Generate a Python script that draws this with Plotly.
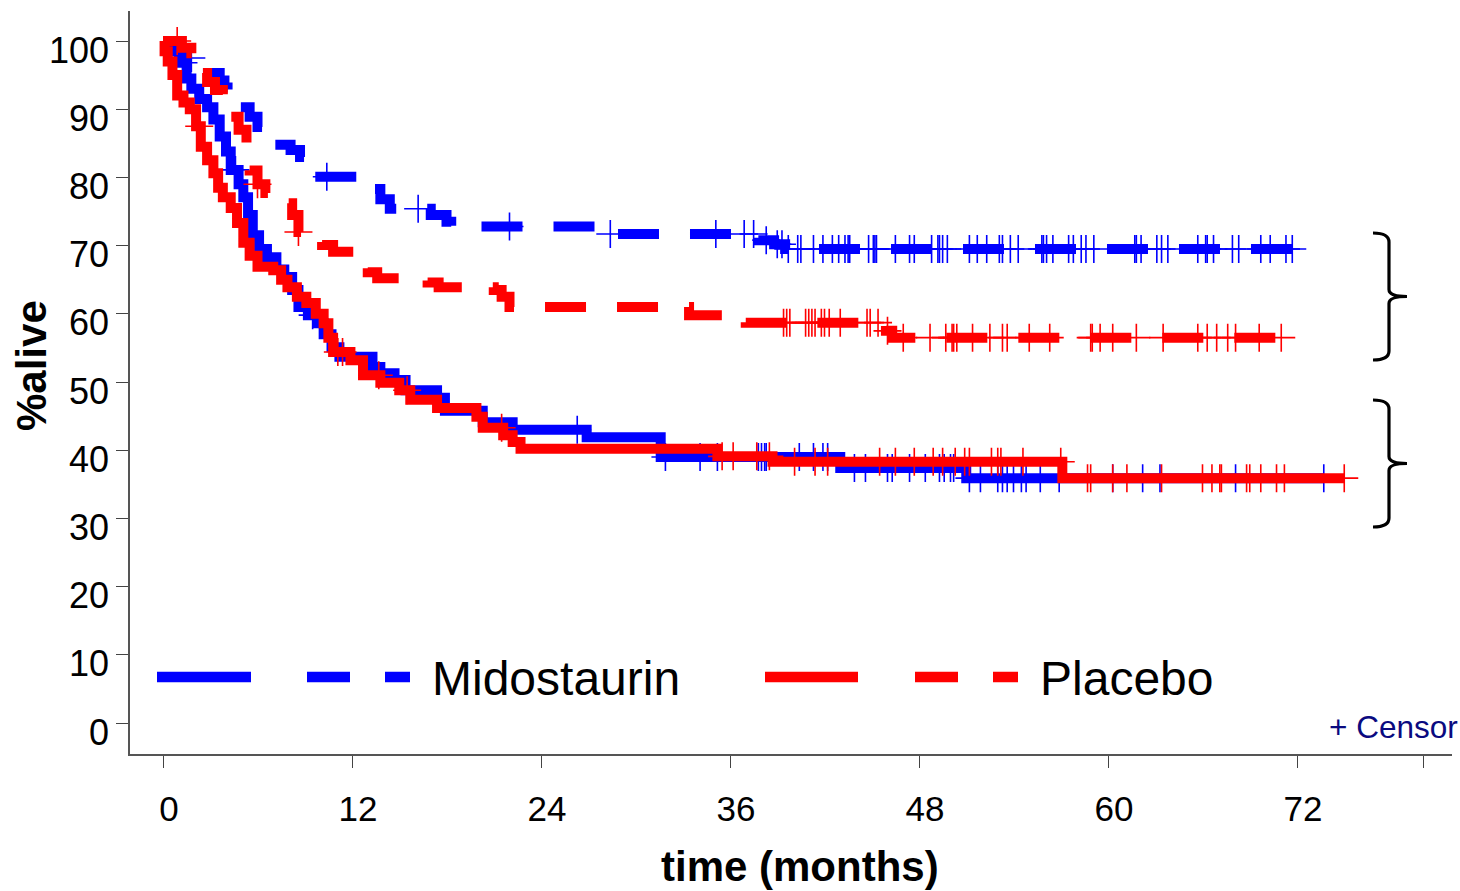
import numpy as np
import plotly.graph_objects as go

# ---------------- data (time in months, % alive) ----------------
# Midostaurin, solid curve: step times and survival levels
mido_solid_t = [0, 0.5, 1.0, 1.5, 1.8, 2.3, 2.8, 3.2, 3.6, 4.0, 4.3, 4.8, 5.1, 5.4, 5.7, 6.1, 6.6,
                7.2, 7.7, 8.2, 8.6, 9.2, 9.8, 10.2, 10.7, 11.2, 13.3, 13.8, 14.7, 15.4, 17.4, 17.9,
                20.3, 22.2, 26.9, 31.6, 43.0, 51.0]
mido_solid_s = [100, 98.5, 96.8, 94.5, 93.0, 91.5, 90.3, 88.5, 86.0, 83.8, 81.1, 79.0, 77.1, 74.5,
                71.5, 69.5, 68.3, 66.5, 65.4, 63.5, 61.0, 59.8, 58.6, 57.0, 55.1, 53.7, 52.2, 51.3,
                50.3, 48.8, 47.7, 45.8, 44.1, 43.0, 41.9, 39.0, 37.4, 35.9]
mido_solid_end = 73.7
mido_solid_cens = [1.3, 4.6, 9.5, 26.3, 31.9, 34.1, 35.2, 37.8, 38.0, 38.2, 38.3, 40.4, 41.3, 41.9,
                   42.2, 43.9, 44.6, 46.0, 46.3, 47.4, 48.4, 49.3, 49.6, 50.0, 50.2, 51.2, 51.9,
                   53.0, 53.3, 53.6, 54.0, 54.5, 54.8, 55.7, 56.9, 60.3, 62.2, 63.3, 68.1, 73.7]

# Midostaurin, dashed curve
mido_dash_t = [0, 0.8, 1.3, 1.9, 3.6, 3.9, 4.1, 4.8, 5.5, 6.0, 7.1, 8.1, 8.7, 9.2, 12.7, 13.8,
               14.4, 17.0, 18.0, 18.3, 27.5, 37.8, 38.8, 39.5]
mido_dash_s = [100, 98.5, 97.5, 95.3, 94.2, 93.2, 92.6, 90.3, 88.9, 87.4, 84.8, 84.0, 83.0, 80.1,
               78.3, 76.8, 75.4, 74.5, 73.5, 72.8, 71.7, 70.8, 70.2, 69.5]
mido_dash_end = 71.7
mido_dash_cens = [1.8, 10.4, 16.2, 22.0, 28.4, 35.1, 36.9, 37.5, 38.3, 39.0, 39.3, 39.7, 40.3,
                  40.5, 41.3, 41.9, 42.5, 42.9, 43.3, 43.5, 43.6, 44.8, 45.1, 45.2, 45.3, 46.5,
                  47.4, 47.7, 48.8, 49.2, 49.3, 49.5, 49.8, 51.2, 51.7, 52.3, 53.1, 53.3, 53.8,
                  54.3, 55.8, 55.9, 56.1, 56.5, 57.5, 57.8, 58.3, 58.6, 59.1, 61.7, 61.8, 62.1,
                  63.1, 63.4, 63.8, 65.7, 66.2, 66.3, 66.7, 67.9, 68.3, 69.7, 70.3, 71.3, 71.7]

# Placebo, solid curve
plac_solid_t = [0, 0.1, 0.3, 0.6, 0.9, 1.3, 1.7, 2.1, 2.4, 2.8, 3.2, 3.5, 3.8, 4.3, 4.7, 5.1, 5.5,
                6.0, 7.0, 7.5, 7.9, 8.5, 9.1, 9.7, 10.2, 10.5, 10.8, 11.9, 12.7, 13.8, 15.0, 15.7,
                17.4, 19.9, 20.3, 21.6, 22.2, 22.7, 35.2, 38.7, 57.1]
plac_solid_s = [100, 98.5, 97.0, 95.0, 92.0, 91.0, 90.0, 87.5, 84.5, 82.5, 80.6, 78.5, 77.1, 75.5,
                73.3, 70.4, 68.5, 66.9, 66.4, 65.0, 63.9, 62.5, 61.6, 60.0, 58.6, 56.5, 54.4, 53.2,
                51.0, 49.9, 48.8, 47.4, 46.2, 44.9, 43.3, 42.2, 41.2, 40.2, 39.1, 38.3, 35.9]
plac_solid_end = 75.0
plac_solid_cens = [2.3, 11.1, 11.4, 13.7, 15.5, 21.5, 35.5, 36.2, 37.7, 38.5, 40.1, 41.4, 42.2,
                   45.5, 46.5, 47.7, 48.9, 49.5, 50.3, 50.9, 51.2, 52.6, 53.0, 53.2, 54.6, 57.0,
                   58.7, 58.9, 60.3, 61.2, 63.4, 66.0, 66.6, 67.1, 67.2, 68.8, 69.0, 69.7, 70.7,
                   71.2, 75.0]

# Placebo, dashed curve
plac_dash_t = [0, 1.2, 1.8, 2.2, 2.8, 3.3, 3.8, 4.3, 4.8, 5.3, 5.5, 6.0, 6.5, 7.6, 8.2, 8.6, 10.1,
               10.8, 13.0, 13.6, 16.8, 17.5, 21.0, 21.5, 22.0, 33.4, 37.0, 45.9, 46.3]
plac_dash_s = [100, 99.0, 98.2, 95.3, 94.0, 92.8, 91.8, 88.9, 87.0, 85.0, 81.0, 79.0, 77.7, 76.2,
               74.5, 72.0, 70.1, 69.1, 66.1, 65.2, 64.6, 63.9, 63.5, 62.5, 61.0, 59.8, 58.7, 57.5,
               56.5]
plac_dash_end = 71.0
plac_dash_cens = [0.9, 6.0, 8.6, 39.4, 39.6, 39.8, 40.8, 41.0, 41.2, 41.4, 41.8, 42.0, 42.3, 43.0,
                  44.7, 44.9, 45.4, 46.0, 47.0, 48.7, 49.7, 50.1, 50.2, 50.4, 51.4, 52.5, 53.3,
                  53.6, 55.0, 56.3, 58.9, 59.0, 59.5, 60.3, 61.8, 63.5, 65.7, 66.3, 66.9, 67.6,
                  68.1, 69.6, 71.0]

x_tick_vals = [0, 12, 24, 36, 48, 60, 72, 80]
x_tick_text = ["0", "12", "24", "36", "48", "60", "72", ""]
y_tick_vals = [0, 10, 20, 30, 40, 50, 60, 70, 80, 90, 100]
legend_names = ["Midostaurin", "Placebo"]

BLUE = "#0000ff"
RED = "#ff0000"
FONT = "Liberation Sans, Arial, sans-serif"


def step_xy(t, s, end):
    return list(t) + [end], list(s) + [s[-1]]


def level_at(t, s, c):
    idx = np.searchsorted(np.array(t), np.array(c), side="right") - 1
    return np.array(s)[idx]


fig = go.Figure()


def add_curve(t, s, end, color, dash, name):
    x, y = step_xy(t, s, end)
    fig.add_trace(go.Scatter(x=x, y=y, mode="lines", line_shape="hv",
                             line=dict(color=color, width=10, dash=dash),
                             name=name, showlegend=False, hoverinfo="skip"))


def add_cens(t, s, cens, color, name):
    fig.add_trace(go.Scatter(x=cens, y=level_at(t, s, cens), mode="markers",
                             marker=dict(symbol="cross-thin", size=20, color=color,
                                         line=dict(color=color, width=1.6)),
                             name=name + " censor", showlegend=False, hoverinfo="skip"))


add_curve(mido_solid_t, mido_solid_s, mido_solid_end, BLUE, "solid", "Midostaurin")
add_curve(mido_dash_t, mido_dash_s, mido_dash_end, BLUE, "41px,31px", "Midostaurin (dashed)")
add_cens(mido_solid_t, mido_solid_s, mido_solid_cens, BLUE, "Midostaurin")
add_cens(mido_dash_t, mido_dash_s, mido_dash_cens, BLUE, "Midostaurin (dashed)")
add_curve(plac_solid_t, plac_solid_s, plac_solid_end, RED, "solid", "Placebo")
add_curve(plac_dash_t, plac_dash_s, plac_dash_end, RED, "41px,31px", "Placebo (dashed)")
add_cens(plac_solid_t, plac_solid_s, plac_solid_cens, RED, "Placebo")
add_cens(plac_dash_t, plac_dash_s, plac_dash_cens, RED, "Placebo (dashed)")

# ---------------- layout geometry (pixels) ----------------
PL, PR, PT, PB = 130, 1452, 11, 754
W, H = 1460, 891


def px(x):
    return (x - PL) / (PR - PL)


def py(y):
    return (PB - y) / (PB - PT)


shapes = []
# legend samples
for (x0, x1, x2, x3, color) in [(157, 251, 307, 410, BLUE), (765, 858, 915, 1018, RED)]:
    shapes.append(dict(type="line", xref="paper", yref="paper", x0=px(x0), x1=px(x1),
                       y0=py(677), y1=py(677), line=dict(color=color, width=10.5)))
    shapes.append(dict(type="line", xref="paper", yref="paper", x0=px(x2), x1=px(x3),
                       y0=py(677), y1=py(677), line=dict(color=color, width=10.5, dash="43px,35px")))


def brace(top, bottom, xl=1373, xs=1389, xt=1407):
    mid = (top + bottom) / 2
    pts = [("M", [(xl, top)]),
           ("Q", [(xs, top), (xs, top + 9)]),
           ("L", [(xs, mid - 7)]),
           ("Q", [(xs, mid), (xt, mid)]),
           ("Q", [(xs, mid), (xs, mid + 7)]),
           ("L", [(xs, bottom - 9)]),
           ("Q", [(xs, bottom), (xl, bottom)])]
    out = []
    for cmd, plist in pts:
        out.append(cmd + " " + " ".join(f"{px(a):.5f},{py(b):.5f}" for a, b in plist))
    return " ".join(out)


for top, bot in [(233, 360), (400, 527)]:
    shapes.append(dict(type="path", xref="paper", yref="paper", path=brace(top, bot),
                       line=dict(color="black", width=3.2)))

annotations = [
    dict(text=legend_names[0], x=px(430), y=py(678), xref="paper", yref="paper",
         xanchor="left", yanchor="middle", showarrow=False,
         font=dict(family=FONT, size=48, color="black")),
    dict(text=legend_names[1], x=px(1038), y=py(678), xref="paper", yref="paper",
         xanchor="left", yanchor="middle", showarrow=False,
         font=dict(family=FONT, size=48, color="black")),
    dict(text="+ Censor", x=px(1327), y=py(727), xref="paper", yref="paper",
         xanchor="left", yanchor="middle", showarrow=False,
         font=dict(family=FONT, size=31.5, color="#0a0a80")),
    dict(text="<b>time (months)</b>", x=px(800), y=py(866), xref="paper", yref="paper",
         xanchor="center", yanchor="middle", showarrow=False,
         font=dict(family=FONT, size=42, color="black")),
    dict(text="<b>%alive</b>", x=px(31), y=py(366), xref="paper", yref="paper",
         xanchor="center", yanchor="middle", showarrow=False, textangle=-90,
         font=dict(family=FONT, size=42, color="black")),
]

fig.update_layout(
    width=W, height=H,
    margin=dict(l=PL, r=W - PR, t=PT, b=H - PB, pad=0),
    paper_bgcolor="white", plot_bgcolor="white",
    font=dict(family=FONT, color="black"),
    showlegend=False,
    shapes=shapes,
    annotations=annotations,
    xaxis=dict(range=[-33 / 15.75, 1289 / 15.75], tickmode="array", tickvals=x_tick_vals,
               ticktext=x_tick_text, ticks="outside", ticklen=12, tickwidth=1.3,
               tickcolor="#444", showline=True, linecolor="#555", linewidth=1.6,
               showgrid=False, zeroline=False, tickfont=dict(size=35, color="black"),
               ticklabelstandoff=11, ticklabelshift=6),
    yaxis=dict(range=[-31 / 6.82, 100 + 30 / 6.82], tickmode="array", tickvals=y_tick_vals,
               ticks="outside", ticklen=12, tickwidth=1.3, tickcolor="#444",
               showline=True, linecolor="#555", linewidth=1.6, showgrid=False,
               zeroline=False, tickfont=dict(size=36, color="black"),
               ticklabelstandoff=0, ticklabelshift=9),
)

fig.write_html("out.html", post_script="document.body.style.margin='0px';",
               config={"displayModeBar": False})
